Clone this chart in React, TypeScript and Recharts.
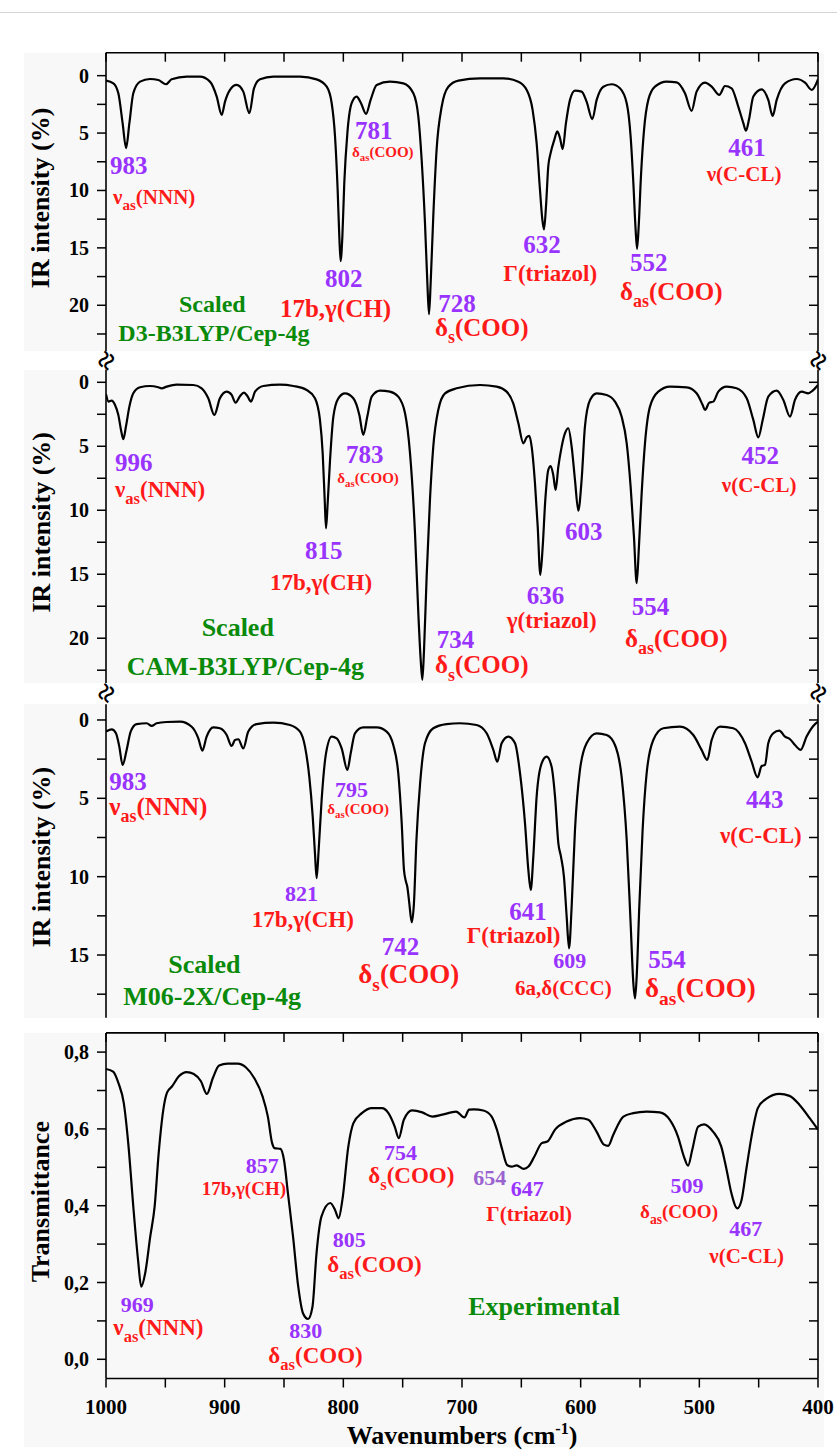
import React from "react";
import { LineChart, Line, XAxis, YAxis, ReferenceDot } from "recharts";

type Pt = [number, number];
type Anno = { w: number; v: number; text: string; kind: string };

const FONT = '"Liberation Serif", "Times New Roman", Times, serif';
const PURPLE = "#9933ff";
const PURPLE_LIGHT = "#9a63d0";
const RED = "#ff1a1a";
const GREEN = "#0a8a0a";

// ---------- axes ----------
const WN_DOMAIN: [number, number] = [400, 1000];
const WN_TICKS = [1000, 950, 900, 850, 800, 750, 700, 650, 600, 550, 500, 450, 400];
const IR_TICKS_A = [0, 2.5, 5, 7.5, 10, 12.5, 15, 17.5, 20, 22.5];
const IR_TICKS_C = [0, 2.5, 5, 7.5, 10, 12.5, 15, 17.5];
const T_TICKS = [0, 0.1, 0.2, 0.3, 0.4, 0.5, 0.6, 0.7, 0.8];
const D3_DOMAIN: [number, number] = [-2, 24];
const CAM_DOMAIN: [number, number] = [-1, 23.5];
const M06_DOMAIN: [number, number] = [-1, 19];
const EXP_DOMAIN: [number, number] = [-0.05, 0.85];

// ---------- spectra [wavenumber, value] ----------
const d3Spectrum: Pt[] = [
  [1000, 0.43], [993.8, 0.67], [989.6, 1.53], [986, 4.14], [983.1, 6.31], [980.3, 4.14], [977, 1.53], [971.3, 0.52],
  [963, 0.29], [955.9, 0.38], [949.4, 0.75], [944.7, 0.32], [932, 0.09], [920.8, 0.09], [912.4, 0.52], [906.7, 1.82],
  [902.5, 3.42], [899.7, 2.26], [895.5, 1.24], [889.9, 0.81], [884.3, 1.39], [879.2, 3.27], [875.3, 1.1], [870.2, 0.32],
  [859, 0.09], [836.5, 0.09], [822.5, 0.32], [814, 0.96], [809.8, 2.4], [807, 5.3], [804.8, 9.93], [803.4, 13.98],
  [802.3, 16.15], [800.8, 13.98], [799.2, 9.35], [796.6, 5.0], [793, 2.4], [788.8, 1.82], [785.1, 2.4], [780.9, 3.33],
  [777, 2.11], [771.9, 0.81], [760.7, 0.52], [749.4, 0.67], [741, 1.53], [736.8, 3.56], [734, 7.32], [731.2, 12.82],
  [729.2, 18.03], [727.8, 20.78], [726.4, 18.03], [724.2, 12.24], [721.4, 6.45], [717.1, 2.69], [711.5, 0.96], [703, 0.43],
  [684.8, 0.23], [665.2, 0.23], [652.5, 0.52], [645.5, 1.24], [640.5, 2.98], [637.1, 5.88], [634.3, 9.93], [632.3, 12.53],
  [630.9, 13.4], [629.2, 11.37], [627.3, 7.9], [625.3, 6.74], [622.2, 5.59], [619.7, 4.86], [617.4, 5.44], [615.2, 6.4],
  [612.4, 4.14], [609, 2.11], [604.8, 1.3], [599.2, 1.39], [595, 2.26], [590.2, 3.79], [586.5, 2.11], [580.9, 0.96],
  [573.9, 0.75], [566.9, 1.1], [561.2, 2.4], [557.9, 5.3], [555.6, 9.35], [553.7, 13.4], [552.5, 15.08], [551.1, 13.11],
  [549.2, 8.77], [546.6, 4.72], [543, 2.11], [537.4, 0.96], [527.5, 0.52], [519.1, 0.58], [512.1, 1.53], [506.5, 3.07],
  [502.3, 1.39], [495.2, 0.61], [489.6, 0.96], [483.2, 1.68], [478.4, 0.9], [472.8, 1.1], [467.2, 2.69], [462.9, 4.14],
  [460.7, 4.8], [458.2, 3.85], [454.5, 1.82], [447.5, 1.19], [441.9, 2.11], [438.2, 3.5], [434.8, 2.11], [427.8, 0.67],
  [418, 0.29], [410.9, 0.61], [405.3, 1.24], [400, 0.32],
];

const camSpectrum: Pt[] = [
  [1000, 0.94], [997.8, 1.51], [995.2, 1.43], [992.4, 1.77], [989.6, 2.55], [987.1, 3.85], [985.4, 4.45], [983.2, 3.46],
  [980.3, 1.9], [977, 0.86], [971.3, 0.39], [963, 0.29], [955.9, 0.39], [953.1, 0.47], [948.9, 0.34], [940.5, 0.18],
  [926.4, 0.21], [919.4, 0.47], [913.8, 1.25], [908.7, 2.55], [904, 1.25], [898.3, 0.73], [894.1, 0.99], [890.8, 1.59],
  [887, 1.07], [883.7, 0.81], [880.9, 1.07], [877.8, 1.51], [874.4, 0.73], [867.4, 0.29], [853.4, 0.18], [842.1, 0.29],
  [830.9, 0.6], [823.9, 1.25], [819.7, 2.94], [817.4, 5.55], [815.7, 9.19], [814.6, 11.41], [813.2, 9.45], [811.2, 6.07],
  [808.4, 2.68], [804.2, 1.25], [798.6, 0.86], [791.6, 1.25], [786.5, 2.55], [783.2, 4.11], [779.8, 2.68], [776.1, 1.12],
  [769.1, 0.65], [760.7, 0.73], [753.7, 1.12], [748, 2.42], [743.8, 5.55], [739.6, 11.8], [736.8, 18.05], [734.8, 21.7],
  [733.4, 23.25], [732, 20.9], [729.8, 15.2], [727, 9.19], [724.2, 5.03], [720, 2.16], [714.3, 0.86], [704.5, 0.47],
  [684.8, 0.21], [670.8, 0.34], [662.4, 0.73], [656.8, 1.64], [652.5, 3.2], [648.3, 4.77], [645.5, 4.3], [643.3, 4.19],
  [641.3, 5.03], [638.5, 7.89], [636.2, 11.28], [634, 15.05], [632, 12.84], [629.8, 9.19], [627.3, 6.85], [625.3, 6.54],
  [623.1, 7.24], [621.1, 8.41], [618.8, 6.59], [616, 5.03], [613.2, 3.98], [610.4, 3.59], [607.6, 5.03], [604.8, 7.63],
  [602, 10.03], [599.2, 7.63], [596.4, 3.46], [592.1, 1.38], [586.5, 0.86], [578.1, 0.99], [571.1, 1.51], [565.5, 2.68],
  [561.2, 4.77], [557.9, 8.15], [555.1, 12.06], [552.8, 15.7], [550.9, 12.84], [548.6, 8.67], [545.8, 4.77], [541.6, 1.9],
  [534.6, 0.73], [524.7, 0.34], [510.7, 0.39], [502.3, 0.86], [497.2, 1.77], [495.2, 2.16], [491.6, 1.59], [488.2, 1.51],
  [484, 0.73], [477, 0.34], [468.6, 0.47], [460.1, 1.25], [454.5, 2.94], [450.3, 4.3], [446.6, 2.94], [441.9, 1.12],
  [434.8, 0.65], [429.2, 1.38], [423.6, 2.68], [419.4, 1.38], [413.8, 0.73], [408.2, 0.86], [404.5, 0.65], [400, 0.21],
];

const m06Spectrum: Pt[] = [
  [1000, 0.74], [995.2, 0.6], [991.6, 0.85], [988.8, 1.7], [986, 2.87], [982.6, 1.91], [979.2, 0.74], [974.2, 0.26],
  [965.7, 0.21], [961.5, 0.38], [957.3, 0.21], [948.9, 0.13], [937.6, 0.11], [927.8, 0.43], [922.2, 1.17], [918.8, 1.96],
  [915.2, 1.06], [909.6, 0.47], [904, 0.53], [898.3, 0.96], [894.1, 1.66], [891.3, 1.28], [888.5, 1.23], [884.3, 1.81],
  [880.1, 0.74], [873.1, 0.26], [859, 0.17], [845, 0.32], [836.5, 0.74], [832.3, 1.7], [828.7, 3.62], [825.8, 6.17],
  [823.9, 8.51], [822.5, 10.1], [820.8, 8.3], [818.3, 5.11], [814.6, 2.13], [809.8, 1.06], [805.6, 1.17], [801.4, 1.81],
  [796.6, 3.19], [793.8, 2.13], [790.2, 0.85], [783.2, 0.47], [771.9, 0.47], [763.5, 0.74], [757.9, 1.6], [753.7, 3.4],
  [750.8, 6.6], [748.9, 9.57], [747.2, 10.32], [746.1, 10.64], [744.4, 11.7], [742.4, 12.91], [740.5, 11.7], [738.4, 7.66],
  [735.3, 4.04], [731.2, 1.49], [724.2, 0.53], [713, 0.26], [701.7, 0.21], [687.7, 0.32], [679.2, 0.85], [673.6, 1.91],
  [670.2, 2.66], [666.6, 1.49], [661, 1.06], [655.3, 1.49], [651.1, 3.4], [646.9, 6.6], [644.1, 9.57], [642.1, 10.85],
  [639.9, 8.72], [637.1, 4.89], [632.9, 2.77], [628.7, 2.34], [624.5, 2.98], [621.6, 4.89], [618.8, 7.87], [616.6, 8.72],
  [614.1, 10], [611.8, 12.55], [609.8, 14.57], [607.6, 11.91], [604.8, 7.02], [600.6, 3.19], [595, 1.49], [586.5, 0.85],
  [578.1, 0.96], [571.1, 1.6], [565.5, 3.62], [561.2, 7.66], [557.9, 12.98], [555.6, 16.81], [554.2, 17.77], [552.8, 16.38],
  [550.6, 11.91], [547.8, 7.02], [544.4, 3.4], [538.8, 1.28], [530.4, 0.53], [516.3, 0.43], [505.1, 0.96], [498.1, 1.91],
  [493.3, 2.55], [489.6, 1.28], [482.6, 0.43], [471.4, 0.53], [461.5, 1.49], [455.9, 2.66], [450.9, 3.66], [447.5, 2.94],
  [444.7, 2.87], [441.9, 1.49], [437.7, 0.85], [432.6, 0.68], [427.8, 1.06], [423.6, 1.23], [419.4, 1.6], [414.6, 1.91],
  [409.6, 1.06], [404, 0.38], [400, 0.11],
];

const expSpectrum: Pt[] = [
  [1000, 0.756], [994, 0.749], [989.5, 0.719], [985, 0.667], [981, 0.554], [977, 0.398], [973, 0.259], [970.3, 0.189],
  [967, 0.224], [962.7, 0.32], [959, 0.398], [955.6, 0.537], [951.3, 0.658], [948.5, 0.695], [944.3, 0.711], [938.6, 0.737],
  [932, 0.748], [926, 0.743], [920, 0.724], [915, 0.691], [910, 0.732], [904.7, 0.765], [897.6, 0.77], [889, 0.77],
  [882, 0.76], [875, 0.732], [868, 0.684], [863.6, 0.632], [860, 0.563], [858, 0.55], [853, 0.548], [850, 0.519],
  [846.7, 0.433], [842.4, 0.32], [838, 0.189], [834, 0.12], [829.7, 0.105], [826, 0.137], [822.6, 0.276], [818.4, 0.372],
  [811, 0.407], [807, 0.389], [804, 0.367], [800.8, 0.415], [795.8, 0.554], [791.5, 0.615], [784.4, 0.641], [776, 0.654],
  [767.5, 0.654], [762, 0.641], [756.7, 0.606], [753.3, 0.576], [749, 0.624], [742, 0.648], [733.5, 0.643], [725, 0.632],
  [716.5, 0.637], [705, 0.645], [698, 0.63], [694, 0.65], [690, 0.651], [682, 0.648], [675, 0.632], [670.6, 0.598],
  [666, 0.545], [662, 0.506], [658, 0.502], [654, 0.505], [648, 0.496], [644, 0.502], [639, 0.528], [632.8, 0.563],
  [628, 0.567], [621.6, 0.598], [611.8, 0.619], [600.6, 0.628], [593.6, 0.624], [586.6, 0.593], [580.4, 0.559], [576.8, 0.556],
  [572.5, 0.585], [564, 0.632], [555.7, 0.641], [544.5, 0.645], [533.3, 0.643], [525, 0.624], [518, 0.58], [513, 0.528],
  [509.5, 0.504], [506, 0.545], [501, 0.606], [496, 0.612], [488.5, 0.593], [481.5, 0.554], [477, 0.493], [473, 0.433],
  [468, 0.393], [464.4, 0.415], [460.5, 0.493], [456, 0.58], [450.7, 0.654], [443.7, 0.678], [432.5, 0.691], [424, 0.686],
  [415.7, 0.663], [407, 0.628], [400, 0.598],
];

// ---------- annotations (anchored in data coordinates) ----------
const d3Annotations: Anno[] = [
  { w: 996.6, v: 8.53, text: "983", kind: "num" },
  { w: 994.1, v: 11.15, text: "ν_as_(NNN)", kind: "rS" },
  { w: 790.2, v: 5.5, text: "781", kind: "num" },
  { w: 792.7, v: 7.06, text: "δ_as_(COO)", kind: "rT" },
  { w: 815.4, v: 18.37, text: "802", kind: "num" },
  { w: 853.4, v: 21.06, text: "17b,γ(CH)", kind: "rL" },
  { w: 720, v: 20.6, text: "728", kind: "num" },
  { w: 722.8, v: 22.66, text: "δ_s_(COO)", kind: "rL" },
  { w: 648.3, v: 15.48, text: "632", kind: "num" },
  { w: 665.2, v: 17.88, text: "Γ(triazol)", kind: "rM" },
  { w: 558.4, v: 17.0, text: "552", kind: "num" },
  { w: 566.9, v: 19.53, text: "δ_as_(COO)", kind: "rL" },
  { w: 475.6, v: 6.97, text: "461", kind: "num" },
  { w: 493.8, v: 9.2, text: "ν(C-CL)", kind: "rS" },
  { w: 938.5, v: 20.6, text: "Scaled", kind: "gM" },
  { w: 989.6, v: 23.09, text: "D3-B3LYP/Cep-4g", kind: "gM" },
];

const camAnnotations: Anno[] = [
  { w: 992.4, v: 6.9, text: "996", kind: "num" },
  { w: 992.4, v: 8.94, text: "ν_as_(NNN)", kind: "rM" },
  { w: 797.8, v: 6.28, text: "783", kind: "num" },
  { w: 805.1, v: 7.84, text: "δ_as_(COO)", kind: "rT" },
  { w: 832.3, v: 13.83, text: "815", kind: "num" },
  { w: 861.8, v: 16.23, text: "17b,γ(CH)", kind: "rM" },
  { w: 721.3, v: 20.78, text: "734", kind: "num" },
  { w: 722.8, v: 22.73, text: "δ_s_(COO)", kind: "rL" },
  { w: 645.5, v: 17.32, text: "636", kind: "num" },
  { w: 662.3, v: 19.22, text: "γ(triazol)", kind: "rM" },
  { w: 613.2, v: 12.32, text: "603", kind: "num" },
  { w: 557, v: 18.18, text: "554", kind: "num" },
  { w: 562.6, v: 20.66, text: "δ_as_(COO)", kind: "rL" },
  { w: 464.4, v: 6.38, text: "452", kind: "num" },
  { w: 481.1, v: 8.55, text: "ν(C-CL)", kind: "rS" },
  { w: 919.4, v: 19.82, text: "Scaled", kind: "gL" },
  { w: 982.6, v: 22.87, text: "CAM-B3LYP/Cep-4g", kind: "gL" },
];

const m06Annotations: Anno[] = [
  { w: 997.2, v: 4.45, text: "983", kind: "num" },
  { w: 997.2, v: 6.05, text: "ν_as_(NNN)", kind: "rL" },
  { w: 807, v: 4.94, text: "795", kind: "numS" },
  { w: 813.5, v: 6.0, text: "δ_as_(COO)", kind: "rT" },
  { w: 849.2, v: 11.53, text: "821", kind: "numS" },
  { w: 877.2, v: 13.23, text: "17b,γ(CH)", kind: "rM" },
  { w: 767.7, v: 15.0, text: "742", kind: "num" },
  { w: 787.4, v: 16.8, text: "δ_s_(COO)", kind: "rXL" },
  { w: 660.1, v: 12.76, text: "641", kind: "num" },
  { w: 696.1, v: 14.25, text: "Γ(triazol)", kind: "rM" },
  { w: 623.1, v: 15.85, text: "609", kind: "numS" },
  { w: 655.3, v: 17.55, text: "6a,δ(CCC)", kind: "rS" },
  { w: 543, v: 15.85, text: "554", kind: "num" },
  { w: 545.8, v: 17.66, text: "δ_as_(COO)", kind: "rXL" },
  { w: 460.7, v: 5.64, text: "443", kind: "num" },
  { w: 482.6, v: 7.87, text: "ν(C-CL)", kind: "rM" },
  { w: 947.5, v: 16.17, text: "Scaled", kind: "gL" },
  { w: 985.4, v: 18.19, text: "M06-2X/Cep-4g", kind: "gL" },
];

const expAnnotations: Anno[] = [
  { w: 987.6, v: 0.124, text: "969", kind: "numS" },
  { w: 993.8, v: 0.063, text: "ν_as_(NNN)", kind: "rM" },
  { w: 882.3, v: 0.485, text: "857", kind: "numS" },
  { w: 919.4, v: 0.428, text: "17b,γ(CH)", kind: "rXS" },
  { w: 845.5, v: 0.055, text: "830", kind: "numS" },
  { w: 863.2, v: -0.01, text: "δ_as_(COO)", kind: "rM" },
  { w: 809, v: 0.293, text: "805", kind: "numS" },
  { w: 813.5, v: 0.228, text: "δ_as_(COO)", kind: "rM" },
  { w: 765.7, v: 0.519, text: "754", kind: "numS" },
  { w: 779, v: 0.459, text: "δ_s_(COO)", kind: "rM" },
  { w: 690.5, v: 0.454, text: "654", kind: "numL" },
  { w: 659, v: 0.424, text: "647", kind: "numS" },
  { w: 679.5, v: 0.359, text: "Γ(triazol)", kind: "rS" },
  { w: 524.2, v: 0.433, text: "509", kind: "numS" },
  { w: 550, v: 0.367, text: "δ_as_(COO)", kind: "rXS" },
  { w: 474.8, v: 0.321, text: "467", kind: "numS" },
  { w: 491.6, v: 0.252, text: "ν(C-CL)", kind: "rS" },
  { w: 694.7, v: 0.115, text: "Experimental", kind: "gL" },
];

// ---------- styles ----------
const KIND: Record<string, { fill: string; size: number }> = {
  num: { fill: PURPLE, size: 25 },
  numS: { fill: PURPLE, size: 22 },
  numL: { fill: PURPLE_LIGHT, size: 22 },
  rXL: { fill: RED, size: 27 },
  rL: { fill: RED, size: 25 },
  rM: { fill: RED, size: 23 },
  rS: { fill: RED, size: 21 },
  rXS: { fill: RED, size: 19 },
  rT: { fill: RED, size: 15 },
  gM: { fill: GREEN, size: 24 },
  gL: { fill: GREEN, size: 26 },
};

const AXIS_LINE = { stroke: "#000", strokeWidth: 1.6 };
const TICK_LEN = 9;

function AnnoText({ cx, cy, a }: { cx: number; cy: number; a: Anno }) {
  const st = KIND[a.kind];
  const parts = a.text.split("_");
  const shift = st.size * 0.3;
  const kids: React.ReactNode[] = [];
  let down = false;
  parts.forEach((p, i) => {
    const isSub = i % 2 === 1;
    if (!p) return;
    let dy = 0;
    if (isSub && !down) { dy = shift; down = true; }
    if (!isSub && down) { dy = -shift; down = false; }
    kids.push(
      <tspan key={i} dy={dy} fontSize={isSub ? st.size * 0.72 : st.size}>{p}</tspan>
    );
  });
  return (
    <text x={cx} y={cy} fontFamily={FONT} fontWeight={700} fontSize={st.size} fill={st.fill}>
      {kids}
    </text>
  );
}

const LeftTick = (props: any) => {
  const { x, y, payload, isMajor, fmt } = props;
  const v = payload.value;
  const major = isMajor(v);
  return (
    <g>
      <line x1={x} x2={x - TICK_LEN} y1={y} y2={y} stroke="#000" strokeWidth={1.5} />
      {major && (
        <text x={x - 17} y={y} textAnchor="end" dominantBaseline="central" fontFamily={FONT} fontWeight={700} fontSize={20} fill="#000">
          {fmt(v)}
        </text>
      )}
    </g>
  );
};

const RightTick = (props: any) => {
  const { x, y } = props;
  return <line x1={x} x2={x - TICK_LEN} y1={y} y2={y} stroke="#000" strokeWidth={1.5} />;
};

const TopTick = (props: any) => {
  const { x, y } = props;
  return <line x1={x} x2={x} y1={y} y2={y + TICK_LEN} stroke="#000" strokeWidth={1.5} />;
};

const BottomTick = (props: any) => {
  const { x, y, payload } = props;
  const v = payload.value;
  return (
    <g>
      <line x1={x} x2={x} y1={y} y2={y + TICK_LEN} stroke="#000" strokeWidth={1.5} />
      {v % 100 === 0 && (
        <text x={x} y={y + 35} textAnchor="middle" fontFamily={FONT} fontWeight={700} fontSize={21} fill="#000">
          {v}
        </text>
      )}
    </g>
  );
};

const BreakMark = ({ x, y }: { x: number; y: number }) => (
  <text x={x} y={y} textAnchor="middle" dominantBaseline="central" transform={`rotate(-60, ${x}, ${y})`} fontFamily={FONT} fontWeight={700} fontSize={32} fill="#000">
    ≈
  </text>
);

const yLabelContent = (text: string, breaks: boolean, side: "left" | "right") => (props: any) => {
  const vb = props.viewBox || {};
  const edge = side === "left" ? (vb.x ?? 0) + (vb.width ?? 0) : vb.x ?? 0;
  const y = vb.y ?? 0;
  const h = vb.height ?? 0;
  const cx = edge - 65;
  const cy = y + h / 2 - 4;
  return (
    <g>
      {text && (
        <text x={cx} y={cy} transform={`rotate(-90, ${cx}, ${cy})`} textAnchor="middle" dominantBaseline="central" fontFamily={FONT} fontWeight={700} fontSize={26} fill="#000">
          {text}
        </text>
      )}
      {breaks && <BreakMark x={edge} y={y - 9} />}
      {breaks && <BreakMark x={edge} y={y + h + 10} />}
    </g>
  );
};

const xLabelContent = (props: any) => {
  const vb = props.viewBox || {};
  const cx = (vb.x ?? 0) + (vb.width ?? 0) / 2;
  const y = (vb.y ?? 0) + 65;
  return (
    <text x={cx} y={y} textAnchor="middle" fontFamily={FONT} fontWeight={700} fontSize={26} fill="#000">
      Wavenumbers (cm<tspan dy={-10} fontSize={16}>-1</tspan><tspan dy={10}>)</tspan>
    </text>
  );
};

type PanelProps = {
  top: number;
  height: number;
  plotTop: number;
  plotBottom: number;
  series: Pt[];
  domain: [number, number];
  reversedY: boolean;
  yTicks: number[];
  isMajor: (v: number) => boolean;
  fmt: (v: number) => string;
  annos: Anno[];
  yLabel: string;
  topAxis: boolean;
  bottomAxis: boolean;
  breaks: boolean;
};

const PLOT_LEFT = 106;
const PLOT_RIGHT = 818;
const W = 837;

function PanelBg(p: PanelProps) {
  const grayH = p.bottomAxis ? p.top + p.height - 3 - p.plotTop : p.plotBottom - p.plotTop;
  return <div style={{ position: "absolute", left: 24, top: p.plotTop, width: 800, height: grayH, background: "#f8f8f8" }} />;
}

function Panel(p: PanelProps) {
  const rows = p.series.map(([w, v]) => ({ w, v }));
  const axisW = 1;
  const margin = {
    top: p.plotTop - p.top - (p.topAxis ? axisW : 0),
    bottom: p.top + p.height - p.plotBottom - (p.bottomAxis ? axisW : 0),
    left: PLOT_LEFT - axisW,
    right: W - PLOT_RIGHT - axisW,
  };
  return (
    <div style={{ position: "absolute", left: 0, top: p.top, width: W, height: p.height }}>
      <LineChart width={W} height={p.height} data={rows} margin={margin} style={{ overflow: "visible" }}>
        {p.bottomAxis ? (
          <XAxis dataKey="w" type="number" domain={WN_DOMAIN} reversed allowDataOverflow orientation="bottom" height={axisW}
            ticks={WN_TICKS} interval={0} tickSize={0} tickMargin={0} tickLine={false} axisLine={AXIS_LINE}
            tick={<BottomTick />} label={{ content: xLabelContent }} />
        ) : p.topAxis ? (
          <XAxis dataKey="w" type="number" domain={WN_DOMAIN} reversed allowDataOverflow orientation="top" height={axisW}
            ticks={WN_TICKS} interval={0} tickSize={0} tickMargin={0} tickLine={false} axisLine={AXIS_LINE}
            tick={<TopTick />} />
        ) : (
          <XAxis dataKey="w" type="number" domain={WN_DOMAIN} reversed allowDataOverflow hide />
        )}
        {p.bottomAxis && p.topAxis && (
          <XAxis xAxisId="top" dataKey="w" type="number" domain={WN_DOMAIN} reversed allowDataOverflow orientation="top" height={axisW}
            ticks={WN_TICKS} interval={0} tickSize={0} tickMargin={0} tickLine={false} axisLine={AXIS_LINE}
            tick={<TopTick />} />
        )}
        <YAxis type="number" domain={p.domain} reversed={p.reversedY} allowDataOverflow width={axisW}
          ticks={p.yTicks} interval={0} tickSize={0} tickMargin={0} tickLine={false} axisLine={AXIS_LINE}
          tick={<LeftTick isMajor={p.isMajor} fmt={p.fmt} />}
          label={{ content: yLabelContent(p.yLabel, p.breaks, "left") }} />
        <YAxis yAxisId="r" orientation="right" type="number" domain={p.domain} reversed={p.reversedY} allowDataOverflow width={axisW}
          ticks={p.yTicks} interval={0} tickSize={0} tickMargin={0} tickLine={false} axisLine={AXIS_LINE}
          tick={<RightTick />}
          label={{ content: yLabelContent("", p.breaks, "right") }} />
        <Line dataKey="v" type="monotone" stroke="#000" strokeWidth={2.2} dot={false} activeDot={false} isAnimationActive={false} />
        {p.annos.map((a, i) => (
          <ReferenceDot key={i} x={a.w} y={a.v} r={0} ifOverflow="visible"
            shape={(sp: any) => <AnnoText cx={sp.cx} cy={sp.cy} a={a} />} />
        ))}
      </LineChart>
    </div>
  );
}

const irMajor = (v: number) => v % 5 === 0;
const irFmt = (v: number) => String(v);
const tMajor = (v: number) => Math.round(v * 10) % 2 === 0;
const tFmt = (v: number) => v.toFixed(1).replace(".", ",");

const panels: PanelProps[] = [
  {
    top: 0, height: 360, plotTop: 52.7, plotBottom: 351.2, series: d3Spectrum, domain: D3_DOMAIN, reversedY: true,
    yTicks: IR_TICKS_A, isMajor: irMajor, fmt: irFmt, annos: d3Annotations, yLabel: "IR intensity (%)",
    topAxis: true, bottomAxis: false, breaks: false,
  },
  {
    top: 325, height: 405, plotTop: 369.5, plotBottom: 683, series: camSpectrum, domain: CAM_DOMAIN, reversedY: true,
    yTicks: IR_TICKS_A, isMajor: irMajor, fmt: irFmt, annos: camAnnotations, yLabel: "IR intensity (%)",
    topAxis: false, bottomAxis: false, breaks: true,
  },
  {
    top: 690, height: 335, plotTop: 704.3, plotBottom: 1017.7, series: m06Spectrum, domain: M06_DOMAIN, reversedY: true,
    yTicks: IR_TICKS_C, isMajor: irMajor, fmt: irFmt, annos: m06Annotations, yLabel: "IR intensity (%)",
    topAxis: false, bottomAxis: false, breaks: false,
  },
  {
    top: 1025, height: 425, plotTop: 1032.9, plotBottom: 1378.5, series: expSpectrum, domain: EXP_DOMAIN, reversedY: false,
    yTicks: T_TICKS, isMajor: tMajor, fmt: tFmt, annos: expAnnotations, yLabel: "Transmittance",
    topAxis: true, bottomAxis: true, breaks: false,
  },
];

export default function App() {
  return (
    <div style={{ position: "absolute", left: 0, top: 0, width: W, height: 1450, background: "#fff", overflow: "hidden" }}>
      <div style={{ position: "absolute", left: 0, top: 12, width: W, height: 1, background: "#d4d4d4" }} />
      {panels.map((p, i) => <PanelBg key={"bg" + i} {...p} />)}
      {panels.map((p, i) => <Panel key={"p" + i} {...p} />)}
    </div>
  );
}
